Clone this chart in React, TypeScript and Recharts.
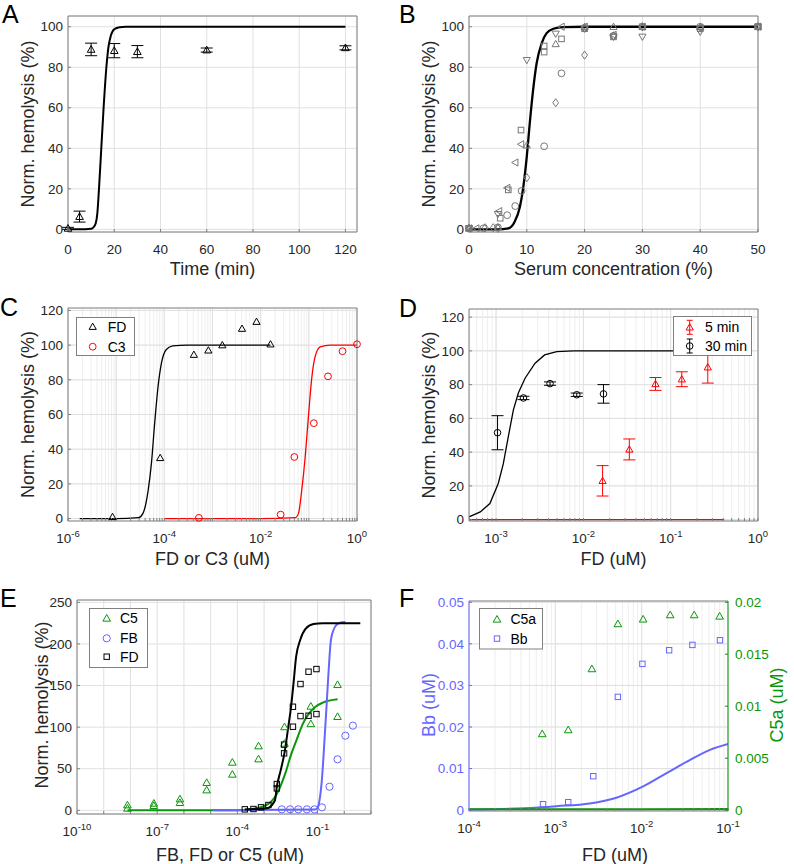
import React from 'react';
import { ComposedChart, XAxis, YAxis, CartesianGrid, Line, Scatter, ErrorBar, ReferenceLine } from 'recharts';

const FONT = '"Liberation Sans", Arial, Helvetica, sans-serif';
const TXT = '#262626';
const AXC = '#808080';
const RED = '#ff0000';
const BLUE = '#6666ff';
const GREEN = '#0a960a';
const GREY = '#777777';
const GRID_MAJ = '#e0e0e0';
const GRID_MIN = '#eeeeee';

// ---------------- Panel A : time course ----------------
const aTime = [0, 5, 10, 20, 30, 60, 120];
const aHemo = [0.5, 6.3, 88.8, 88.2, 87.7, 88.5, 89.6];
const aErr = [0.5, 2.7, 3.1, 3.5, 3.0, 1.0, 1.0];
const aFitT = [0, 5, 10, 11, 12, 12.7, 13.4, 14.4, 15.4, 16.6, 17.5, 18.5, 20, 22.3, 25, 120];
const aFitY = [0, 0, 0.3, 1, 3, 8, 20, 40, 60, 80, 90, 95.5, 98.8, 99.8, 100, 100];

// ---------------- Panel B : serum titration ----------------
const bCircX = [0, 2.5, 5, 6.6, 8, 9.1, 13, 16, 20, 25, 30, 40, 50];
const bCircY = [0.5, 0.5, 1, 7, 11.5, 19, 41, 77, 99.5, 95.5, 100, 100, 100];
const bSqX = [0, 5.4, 6.8, 9, 13, 13, 16, 20, 25, 30, 40, 50];
const bSqY = [0.5, 5.5, 19.5, 49, 87.5, 90.5, 94, 99, 95, 100, 99, 100];
const bUpX = [0, 5, 10, 15, 20, 25, 30, 40, 50];
const bUpY = [0.5, 1, 41.5, 91.5, 100, 100, 100, 100, 100];
const bDnX = [0, 5, 10, 15, 20, 25, 30, 40, 50];
const bDnY = [0.5, 7.5, 83.5, 96.5, 99, 95, 95, 97.5, 100];
const bLfX = [0, 1.25, 5.2, 6.6, 8, 9, 16, 20, 25, 30, 40, 50];
const bLfY = [0.5, 0.5, 9, 20.5, 33, 42, 100, 100, 96, 100, 99.5, 100];
const bDiX = [0, 2.8, 4.2, 5, 10, 15, 20, 25, 30, 40, 50];
const bDiY = [0.5, 0.8, 0.8, 0.5, 25.5, 62.5, 86, 95.5, 100, 99.5, 100];
const bFitX = [0, 5, 6.8, 7.9, 8.8, 9.4, 10, 10.5, 11.1, 11.7, 12.6, 13.4, 14.6, 16.3, 20, 50];
const bFitY = [0, 0, 0.5, 3.8, 11, 21, 36, 52, 69, 82, 92, 96.7, 99, 99.8, 100, 100];

// ---------------- Panel C : FD / C3 titration ----------------
const cFdX = [8.4e-6, 8.2e-5, 4.1e-4, 8.2e-4, 1.6e-3, 4.1e-3, 8.2e-3, 1.6e-2];
const cFdY = [1, 35, 94.5, 97, 100, 109.5, 113.5, 100.5];
const cC3X = [5.2e-4, 2.6e-2, 5.0e-2, 0.127, 0.25, 0.5, 1.0];
const cC3Y = [0.4, 2.3, 35.5, 55, 82, 96.5, 100.5];
const cFdFitX = [1.75e-6, 1e-5, 2.9e-5, 3.6e-5, 4.6e-5, 5.4e-5, 6.3e-5, 7.4e-5, 8.7e-5, 1.1e-4, 1.5e-4, 3e-4, 1.6e-2];
const cFdFitY = [0, 0, 0.5, 3, 16, 32, 55, 76, 89.6, 97.5, 99.6, 100, 100];
const cC3FitX = [1e-4, 0.01, 0.052, 0.061, 0.071, 0.084, 0.098, 0.116, 0.135, 0.172, 0.28, 1];
const cC3FitY = [0, 0, 0.5, 3, 16, 35.5, 58.8, 82, 93.4, 99, 100, 100];

// ---------------- Panel D : FD at 5 / 30 min ----------------
const d30X = [1.04e-3, 2.06e-3, 4.15e-3, 8.4e-3, 1.7e-2];
const d30Y = [51.5, 72.1, 80.6, 74, 74.5];
const d30Err = [10.1, 1, 1, 1, 5.5];
const d5X = [1.66e-2, 3.36e-2, 6.7e-2, 0.134, 0.266];
const d5Y = [23, 41.6, 80.4, 83.2, 90.3];
const d5Err = [9, 6.2, 3.8, 4.4, 9.4];
const dFitX = [4.9e-4, 6.6e-4, 8.5e-4, 1.06e-3, 1.21e-3, 1.38e-3, 1.58e-3, 1.8e-3, 2.15e-3, 2.8e-3, 3.6e-3, 4.95e-3, 7.7e-3, 0.41];
const dFitY = [1.6, 4.6, 9.5, 21.4, 33, 49, 65, 75, 83.8, 92.7, 97.6, 99.6, 100, 100];
const dRedX = [4.9e-4, 0.41];
const dRedY = [0, 0];

// ---------------- Panel E : C5 / FB / FD ----------------
const eC5X = [7.7e-9, 7.7e-9, 7.5e-8, 7.5e-8, 7.1e-7, 7.1e-7, 7.1e-6, 7.1e-6, 6.5e-5, 6.5e-5, 6.2e-4, 6.2e-4, 5.8e-3, 5.8e-3, 5.6e-2, 5.6e-2, 0.56, 0.56];
const eC5Y = [6.4, 2.4, 8.4, 5.6, 13.6, 9.2, 33.3, 24.4, 57.7, 43.3, 77.3, 61.7, 100.3, 80.4, 125, 104, 151, 112.6];
const eFbX = [4.6e-3, 9.4e-3, 0.019, 0.04, 0.077, 0.146, 0.28, 0.56, 1.1, 2.1];
const eFbY = [1.2, 1.2, 1.2, 1.2, 1.2, 3.6, 28.4, 61.3, 89.7, 101.8];
const eFdX = [1.9e-4, 4e-4, 7.7e-4, 1.45e-3, 3e-3, 3e-3, 5.6e-3, 5.6e-3, 0.012, 0.012, 0.023, 0.023, 0.046, 0.046, 0.091, 0.091];
const eFdY = [1.2, 1.6, 3.6, 6.4, 31.6, 26.4, 68.5, 79, 124.5, 100.5, 151.8, 113.3, 166.6, 113.7, 169.8, 115.7];
const eFdFitX = [1.9e-4, 1.26e-3, 1.78e-3, 2.24e-3, 2.57e-3, 3.0e-3, 4.17e-3, 5.75e-3, 8.1e-3, 0.0102, 0.0126, 0.0158, 0.0224, 0.0355, 0.0708, 0.158, 3.98];
const eFdFitY = [1, 2.5, 5, 9, 12.4, 28.4, 48, 68.5, 100.9, 124.5, 152.6, 184.6, 204.7, 218, 224, 225, 225];
const eC5FitX = [7.76e-9, 1e-4, 3.16e-4, 1e-3, 1.78e-3, 2.82e-3, 3.98e-3, 6.31e-3, 0.01, 0.017, 0.0282, 0.0447, 0.0794, 0.158, 0.562];
const eC5FitY = [0, 0, 1.5, 5, 10, 18, 28, 45, 66, 86, 104, 115, 124, 129.5, 133.5];
const eFbFitX = [1.26e-5, 0.0794, 0.1, 0.119, 0.145, 0.182, 0.224, 0.275, 0.316, 0.398, 0.562, 1.0, 1.1];
const eFbFitY = [0, 1, 3, 12.4, 36.4, 84.5, 132.6, 180.7, 204.7, 217, 224, 226.5, 226.5];

// ---------------- Panel F : Bb / C5a ----------------
const fC5aX = [7.05e-4, 1.41e-3, 2.65e-3, 5.3e-3, 0.0104, 0.0214, 0.0406, 0.08];
const fC5aY = [0.00734, 0.00772, 0.01359, 0.01792, 0.01837, 0.01878, 0.01878, 0.01865];
const fBbX = [7.2e-4, 1.41e-3, 2.75e-3, 5.3e-3, 0.0102, 0.0208, 0.0387, 0.0807];
const fBbY = [0.00144, 0.00192, 0.00817, 0.02724, 0.03518, 0.03846, 0.03974, 0.04087];
const fBbFitX = [1e-4, 4.3e-4, 1.03e-3, 2.5e-3, 5.1e-3, 0.0104, 0.0194, 0.0365, 0.0619, 0.1];
const fBbFitY = [0.00016, 0.00048, 0.00096, 0.0016, 0.003, 0.0057, 0.0089, 0.0121, 0.0145, 0.0159];
const fC5aFitX = [1e-4, 0.01, 0.1];
const fC5aFitY = [0.00008, 0.0001, 0.00012];

// ---------------- tick values ----------------
const aXTicks = [0, 20, 40, 60, 80, 100, 120];
const bXTicks = [0, 10, 20, 30, 40, 50];
const hemoTicks100 = [0, 20, 40, 60, 80, 100];
const hemoTicks120 = [0, 20, 40, 60, 80, 100, 120];
const hemoTicks250 = [0, 50, 100, 150, 200, 250];
const cXLabels = [1e-6, 1e-4, 1e-2, 1];
const dXLabels = [1e-3, 1e-2, 1e-1, 1];
const eXLabels = [1e-10, 1e-7, 1e-4, 1e-1];
const fXLabels = [1e-4, 1e-3, 1e-2, 1e-1];
const fBbTicks = [0, 0.01, 0.02, 0.03, 0.04, 0.05];
const fC5aTicks = [0, 0.005, 0.01, 0.015, 0.02];

const decadeTicks = (e0: number, e1: number, mults: number[] = [1, 2, 3, 4, 5, 6, 7, 8, 9]) => {
  const out: number[] = [];
  for (let e = e0; e < e1; e++) for (const m of mults) out.push(Number(`${m}e${e}`));
  out.push(Number(`1e${e1}`));
  return out;
};
const decades = (e0: number, e1: number) => decadeTicks(e0, e1, [1]);

type Pt = { x: number; y: number; e?: number };
const zip = (xs: number[], ys: number[], es?: number[]): Pt[] =>
  xs.map((x, i) => (es ? { x, y: ys[i], e: es[i] } : { x, y: ys[i] }));

// ---------------- markers ----------------
function markerEl(kind: string, cx: number, cy: number, color: string, s: number, sw = 1, key?: string) {
  if (cx == null || cy == null || isNaN(cx) || isNaN(cy)) return <g key={key} />;
  const c = { fill: 'none', stroke: color, strokeWidth: sw, key };
  switch (kind) {
    case 'tri':
      return <polygon {...c} points={`${cx},${cy - s} ${cx - s},${cy + s * 0.75} ${cx + s},${cy + s * 0.75}`} />;
    case 'triDown':
      return <polygon {...c} points={`${cx},${cy + s} ${cx - s},${cy - s * 0.75} ${cx + s},${cy - s * 0.75}`} />;
    case 'triLeft':
      return <polygon {...c} points={`${cx - s},${cy} ${cx + s * 0.75},${cy - s} ${cx + s * 0.75},${cy + s}`} />;
    case 'circle':
      return <circle {...c} cx={cx} cy={cy} r={s} />;
    case 'square':
      return <rect {...c} x={cx - s} y={cy - s} width={2 * s} height={2 * s} />;
    case 'diamond':
      return <polygon {...c} points={`${cx},${cy - s * 1.2} ${cx + s * 0.85},${cy} ${cx},${cy + s * 1.2} ${cx - s * 0.85},${cy}`} />;
    default:
      return <g key={key} />;
  }
}
const mk = (kind: string, color: string, s: number, sw = 1) => (p: any) => markerEl(kind, p.cx, p.cy, color, s, sw);

// ---------------- axes helpers ----------------
const LM = 60;
const BM = 40;
const same = (a: number, b: number) => Math.abs(a - b) <= Math.abs(a) * 1e-9 + 1e-15;
const noTick = () => <g />;

function bottomTick(labels: number[], log: boolean) {
  return (p: any) => {
    const v = p.payload.value;
    if (!labels.some((l) => same(l, v))) return <g />;
    if (log) {
      const ex = Math.round(Math.log10(v));
      return (
        <text x={p.x} y={p.y} textAnchor="middle" fill={TXT} fontSize={13.5} fontFamily={FONT}>
          <tspan dy={9.7}>10</tspan>
          <tspan dy={-5.9} fontSize={9.5}>{String(ex)}</tspan>
        </text>
      );
    }
    return (
      <text x={p.x} y={p.y + 9.7} textAnchor="middle" fill={TXT} fontSize={13.5} fontFamily={FONT}>
        {String(v)}
      </text>
    );
  };
}
function sideTick(labels: number[], anchor: 'start' | 'end', color: string) {
  return (p: any) => {
    const v = p.payload.value;
    if (!labels.some((l) => same(l, v))) return <g />;
    return (
      <text x={p.x} y={p.y + 4.7} textAnchor={anchor} fill={color} fontSize={13.5} fontFamily={FONT}>
        {String(v)}
      </text>
    );
  };
}

function xAxesEls(domain: number[], ticks: number[], labels: number[], log: boolean) {
  const scale = log ? 'log' : 'linear';
  return [
    <XAxis key="xb" xAxisId={0} dataKey="x" type="number" scale={scale as any} domain={domain} ticks={ticks} interval={0}
      height={BM} tickSize={-3} tickMargin={15} axisLine={{ stroke: AXC }} tickLine={{ stroke: AXC }} tick={bottomTick(labels, log)} />,
    <XAxis key="xt" xAxisId="top" orientation="top" dataKey="x" type="number" scale={scale as any} domain={domain} ticks={ticks} interval={0}
      height={1} tickSize={-3} tickMargin={0} axisLine={{ stroke: AXC }} tickLine={{ stroke: AXC }} tick={noTick} />,
  ];
}
function yAxesEls(domain: number[], ticks: number[]) {
  return [
    <YAxis key="yl" yAxisId={0} type="number" domain={domain} ticks={ticks} interval={0} width={LM} tickSize={-3} tickMargin={8}
      axisLine={{ stroke: AXC }} tickLine={{ stroke: AXC }} tick={sideTick(ticks, 'end', TXT)} />,
    <YAxis key="yr" yAxisId="r" orientation="right" type="number" domain={domain} ticks={ticks} interval={0} width={1} tickSize={-3}
      tickMargin={0} axisLine={{ stroke: AXC }} tickLine={{ stroke: AXC }} tick={noTick} />,
  ];
}

function frame(box: number[], rightW: number) {
  const [x0, y0, x1, y1] = box;
  const mr = rightW > 1 ? 0 : 24;
  return {
    width: x1 - x0 + LM + rightW + mr,
    height: y1 - y0 + 6 + BM,
    margin: { top: 5, right: mr, bottom: 0, left: 0 },
    style: { position: 'absolute' as const, left: x0 - LM, top: y0 - 6 },
  };
}

const fit = (xs: number[], ys: number[], color: string, w: number, key: string, type: any = 'monotone', yAxisId: any = 0) => (
  <Line key={key} data={zip(xs, ys)} dataKey="y" yAxisId={yAxisId} type={type} stroke={color} strokeWidth={w} dot={false}
    activeDot={false} isAnimationActive={false} />
);

// ---------------- panels ----------------
const boxA = [68, 16, 357, 232];
const boxB = [469, 16, 758, 232];
const boxC = [68, 308, 357, 521];
const boxD = [469, 309, 758, 521];
const boxE = [77, 600, 371, 814];
const boxF = [469, 601, 728, 811];

function PanelA() {
  const f = frame(boxA, 1);
  return (
    <div style={f.style}>
      <ComposedChart width={f.width} height={f.height} margin={f.margin}>
        <CartesianGrid stroke={GRID_MAJ} />
        {xAxesEls([0, 125], aXTicks, aXTicks, false)}
        {yAxesEls([-1.3, 105.3], hemoTicks100)}
        {fit(aFitT, aFitY, '#000', 2, 'afit')}
        <Scatter data={zip(aTime, aHemo, aErr)} dataKey="y" shape={mk('tri', '#000', 3.8)} isAnimationActive={false}>
          <ErrorBar dataKey="e" direction="y" width={6} stroke="#000" strokeWidth={1} />
        </Scatter>
      </ComposedChart>
    </div>
  );
}

function PanelB() {
  const f = frame(boxB, 1);
  return (
    <div style={f.style}>
      <ComposedChart width={f.width} height={f.height} margin={f.margin}>
        <CartesianGrid stroke={GRID_MAJ} />
        {xAxesEls([0, 50], bXTicks, bXTicks, false)}
        {yAxesEls([-1.3, 105.3], hemoTicks100)}
        <Scatter data={zip(bCircX, bCircY)} dataKey="y" shape={mk('circle', GREY, 3.4)} isAnimationActive={false} />
        <Scatter data={zip(bSqX, bSqY)} dataKey="y" shape={mk('square', GREY, 2.8)} isAnimationActive={false} />
        <Scatter data={zip(bUpX, bUpY)} dataKey="y" shape={mk('tri', GREY, 3.6)} isAnimationActive={false} />
        <Scatter data={zip(bDnX, bDnY)} dataKey="y" shape={mk('triDown', GREY, 3.6)} isAnimationActive={false} />
        <Scatter data={zip(bLfX, bLfY)} dataKey="y" shape={mk('triLeft', GREY, 3.6)} isAnimationActive={false} />
        <Scatter data={zip(bDiX, bDiY)} dataKey="y" shape={mk('diamond', GREY, 3.4)} isAnimationActive={false} />
        {fit(bFitX, bFitY, '#000', 2.3, 'bfit')}
      </ComposedChart>
    </div>
  );
}

const cTicks = decadeTicks(-6, 0);
function PanelC() {
  const f = frame(boxC, 1);
  return (
    <div style={f.style}>
      <ComposedChart width={f.width} height={f.height} margin={f.margin}>
        <CartesianGrid stroke={GRID_MIN} />
        {decades(-6, 0).map((v) => <ReferenceLine key={v} x={v} stroke={GRID_MAJ} />)}
        {hemoTicks120.map((v) => <ReferenceLine key={'h' + v} y={v} stroke={GRID_MAJ} />)}
        {xAxesEls([1e-6, 1], cTicks, cXLabels, true)}
        {yAxesEls([-1.4, 121.4], hemoTicks120)}
        {fit(cFdFitX, cFdFitY, '#000', 1.3, 'cfd')}
        {fit(cC3FitX, cC3FitY, RED, 1.3, 'cc3')}
        <Scatter data={zip(cFdX, cFdY)} dataKey="y" shape={mk('tri', '#000', 3.6)} isAnimationActive={false} />
        <Scatter data={zip(cC3X, cC3Y)} dataKey="y" shape={mk('circle', RED, 3.4)} isAnimationActive={false} />
      </ComposedChart>
    </div>
  );
}

const dTicks = [5e-4, 6e-4, 7e-4, 8e-4, 9e-4, ...decadeTicks(-3, 0)];
function PanelD() {
  const f = frame(boxD, 1);
  return (
    <div style={f.style}>
      <ComposedChart width={f.width} height={f.height} margin={f.margin}>
        <CartesianGrid stroke={GRID_MIN} />
        {decades(-3, 0).map((v) => <ReferenceLine key={v} x={v} stroke={GRID_MAJ} />)}
        {hemoTicks120.map((v) => <ReferenceLine key={'h' + v} y={v} stroke={GRID_MAJ} />)}
        {xAxesEls([4.9e-4, 1], dTicks, dXLabels, true)}
        {yAxesEls([-0.8, 124.8], hemoTicks120)}
        {fit(dFitX, dFitY, '#000', 1.3, 'dfit', 'linear')}
        {fit(dRedX, dRedY, RED, 1.3, 'dred', 'linear')}
        <Scatter data={zip(d5X, d5Y, d5Err)} dataKey="y" shape={mk('tri', RED, 3.6)} isAnimationActive={false}>
          <ErrorBar dataKey="e" direction="y" width={6} stroke={RED} strokeWidth={1} />
        </Scatter>
        <Scatter data={zip(d30X, d30Y, d30Err)} dataKey="y" shape={mk('circle', '#000', 3.3)} isAnimationActive={false}>
          <ErrorBar dataKey="e" direction="y" width={6} stroke="#000" strokeWidth={1} />
        </Scatter>
      </ComposedChart>
    </div>
  );
}

const eTicks = decades(-10, 1);
function PanelE() {
  const f = frame(boxE, 1);
  return (
    <div style={f.style}>
      <ComposedChart width={f.width} height={f.height} margin={f.margin}>
        <CartesianGrid stroke={GRID_MAJ} />
        {xAxesEls([1e-10, 10], eTicks, eXLabels, true)}
        {yAxesEls([-4.4, 252.8], hemoTicks250)}
        {fit(eC5FitX, eC5FitY, GREEN, 2, 'ec5')}
        {fit(eFbFitX, eFbFitY, BLUE, 2, 'efb')}
        {fit(eFdFitX, eFdFitY, '#000', 2, 'efd')}
        <Scatter data={zip(eC5X, eC5Y)} dataKey="y" shape={mk('tri', GREEN, 3.8)} isAnimationActive={false} />
        <Scatter data={zip(eFbX, eFbY)} dataKey="y" shape={mk('circle', BLUE, 3.6)} isAnimationActive={false} />
        <Scatter data={zip(eFdX, eFdY)} dataKey="y" shape={mk('square', '#000', 2.7)} isAnimationActive={false} />
      </ComposedChart>
    </div>
  );
}

const fTicks = decadeTicks(-4, -1);
function PanelF() {
  const f = frame(boxF, 60);
  return (
    <div style={f.style}>
      <ComposedChart width={f.width} height={f.height} margin={f.margin}>
        <CartesianGrid stroke={GRID_MIN} />
        {decades(-4, -1).map((v) => <ReferenceLine key={v} x={v} stroke={GRID_MAJ} />)}
        {fBbTicks.map((v) => <ReferenceLine key={'h' + v} y={v} stroke={GRID_MAJ} />)}
        {xAxesEls([1e-4, 0.1], fTicks, fXLabels, true)}
        <YAxis yAxisId={0} type="number" domain={[-0.0002, 0.0503]} ticks={fBbTicks} interval={0} width={LM} tickSize={-3} tickMargin={8}
          axisLine={{ stroke: BLUE }} tickLine={{ stroke: BLUE }} tick={sideTick(fBbTicks, 'end', BLUE)} />
        <YAxis yAxisId="r" orientation="right" type="number" domain={[-0.00008, 0.02012]} ticks={fC5aTicks} interval={0} width={60}
          tickSize={-3} tickMargin={10} axisLine={{ stroke: GREEN }} tickLine={{ stroke: GREEN }} tick={sideTick(fC5aTicks, 'start', GREEN)} />
        {fit(fBbFitX, fBbFitY, BLUE, 2, 'fbb')}
        {fit(fC5aFitX, fC5aFitY, GREEN, 2, 'fc5', 'monotone', 'r')}
        <Scatter data={zip(fC5aX, fC5aY)} yAxisId="r" dataKey="y" shape={mk('tri', GREEN, 3.8)} isAnimationActive={false} />
        <Scatter data={zip(fBbX, fBbY)} dataKey="y" shape={mk('square', BLUE, 2.7)} isAnimationActive={false} />
      </ComposedChart>
    </div>
  );
}

// ---------------- overlay: titles, panel letters, legends ----------------
function Title({ x, y, text, rot = false, color = TXT }: { x: number; y: number; text: string; rot?: boolean; color?: string }) {
  return (
    <text x={x} y={y} textAnchor="middle" fontSize={18} fill={color} fontFamily={FONT}
      transform={rot ? `rotate(-90 ${x} ${y})` : undefined}>
      {text}
    </text>
  );
}
function Letter({ x, y, t }: { x: number; y: number; t: string }) {
  return <text x={x} y={y} fontSize={25} fill="#000" fontFamily={FONT}>{t}</text>;
}
type Row = { label: string; kind: string; color: string; s: number; err?: boolean };
function LegendBox({ x, y, w, h, rows, ys, mx, tx }: { x: number; y: number; w: number; h: number; rows: Row[]; ys: number[]; mx: number; tx: number }) {
  return (
    <g transform={`translate(${x},${y})`}>
      <rect x={0.5} y={0.5} width={w} height={h} fill="#fff" stroke={AXC} strokeWidth={1} />
      {rows.map((r, i) => (
        <g key={r.label}>
          {r.err ? (
            <g stroke={r.color} strokeWidth={1}>
              <line x1={mx} x2={mx} y1={ys[i] - 7} y2={ys[i] + 7} />
              <line x1={mx - 3} x2={mx + 3} y1={ys[i] - 7} y2={ys[i] - 7} />
              <line x1={mx - 3} x2={mx + 3} y1={ys[i] + 7} y2={ys[i] + 7} />
            </g>
          ) : null}
          {markerEl(r.kind, mx, ys[i], r.color, r.s)}
          <text x={tx} y={ys[i] + 5} fontSize={14} fill="#000" fontFamily={FONT}>{r.label}</text>
        </g>
      ))}
    </g>
  );
}

function Overlay() {
  return (
    <svg width={794} height={864} style={{ position: 'absolute', left: 0, top: 0, pointerEvents: 'none' }}>
      <Letter x={2} y={23} t="A" />
      <Letter x={399} y={23} t="B" />
      <Letter x={0} y={316} t="C" />
      <Letter x={399} y={317} t="D" />
      <Letter x={0} y={606.5} t="E" />
      <Letter x={399} y={606.5} t="F" />

      <Title x={212.5} y={275} text="Time (min)" />
      <Title x={33.6} y={124} text="Norm. hemolysis (%)" rot />
      <Title x={613.5} y={275} text="Serum concentration (%)" />
      <Title x={434.6} y={124} text="Norm. hemolysis (%)" rot />
      <Title x={212.5} y={565} text="FD or C3 (uM)" />
      <Title x={33.6} y={414.5} text="Norm. hemolysis (%)" rot />
      <Title x={613.5} y={565} text="FD (uM)" />
      <Title x={434.6} y={415} text="Norm. hemolysis (%)" rot />
      <Title x={230} y={860.5} text="FB, FD or C5 (uM)" />
      <Title x={47.9} y={705} text="Norm. hemolysis (%)" rot />
      <Title x={615} y={860.5} text="FD (uM)" />
      <Title x={434.6} y={705} text="Bb (uM)" rot color={BLUE} />
      <Title x={783} y={705} text="C5a (uM)" rot color={GREEN} />

      <LegendBox x={76} y={317} w={58} h={38} mx={16.7} tx={31.7} ys={[9.7, 29.7]}
        rows={[{ label: 'FD', kind: 'tri', color: '#000', s: 3.6 }, { label: 'C3', kind: 'circle', color: RED, s: 3.4 }]} />
      <LegendBox x={673} y={316} w={78} h={39} mx={16.7} tx={32} ys={[11.3, 30]}
        rows={[{ label: '5 min', kind: 'tri', color: RED, s: 3.6, err: true }, { label: '30 min', kind: 'circle', color: '#000', s: 3.3, err: true }]} />
      <LegendBox x={89} y={608} w={58} h={59} mx={17.7} tx={31} ys={[10.3, 30.3, 48.7]}
        rows={[{ label: 'C5', kind: 'tri', color: GREEN, s: 3.8 }, { label: 'FB', kind: 'circle', color: BLUE, s: 3.6 }, { label: 'FD', kind: 'square', color: '#000', s: 2.7 }]} />
      <LegendBox x={479} y={608} w={63} h={40.5} mx={18} tx={31.4} ys={[11.3, 30.6]}
        rows={[{ label: 'C5a', kind: 'tri', color: GREEN, s: 3.8 }, { label: 'Bb', kind: 'square', color: BLUE, s: 2.7 }]} />
    </svg>
  );
}

export default function App() {
  return (
    <div style={{ position: 'absolute', left: 0, top: 0, width: 794, height: 864, background: '#fff', fontFamily: FONT }}>
      <PanelA />
      <PanelB />
      <PanelC />
      <PanelD />
      <PanelE />
      <PanelF />
      <Overlay />
    </div>
  );
}
